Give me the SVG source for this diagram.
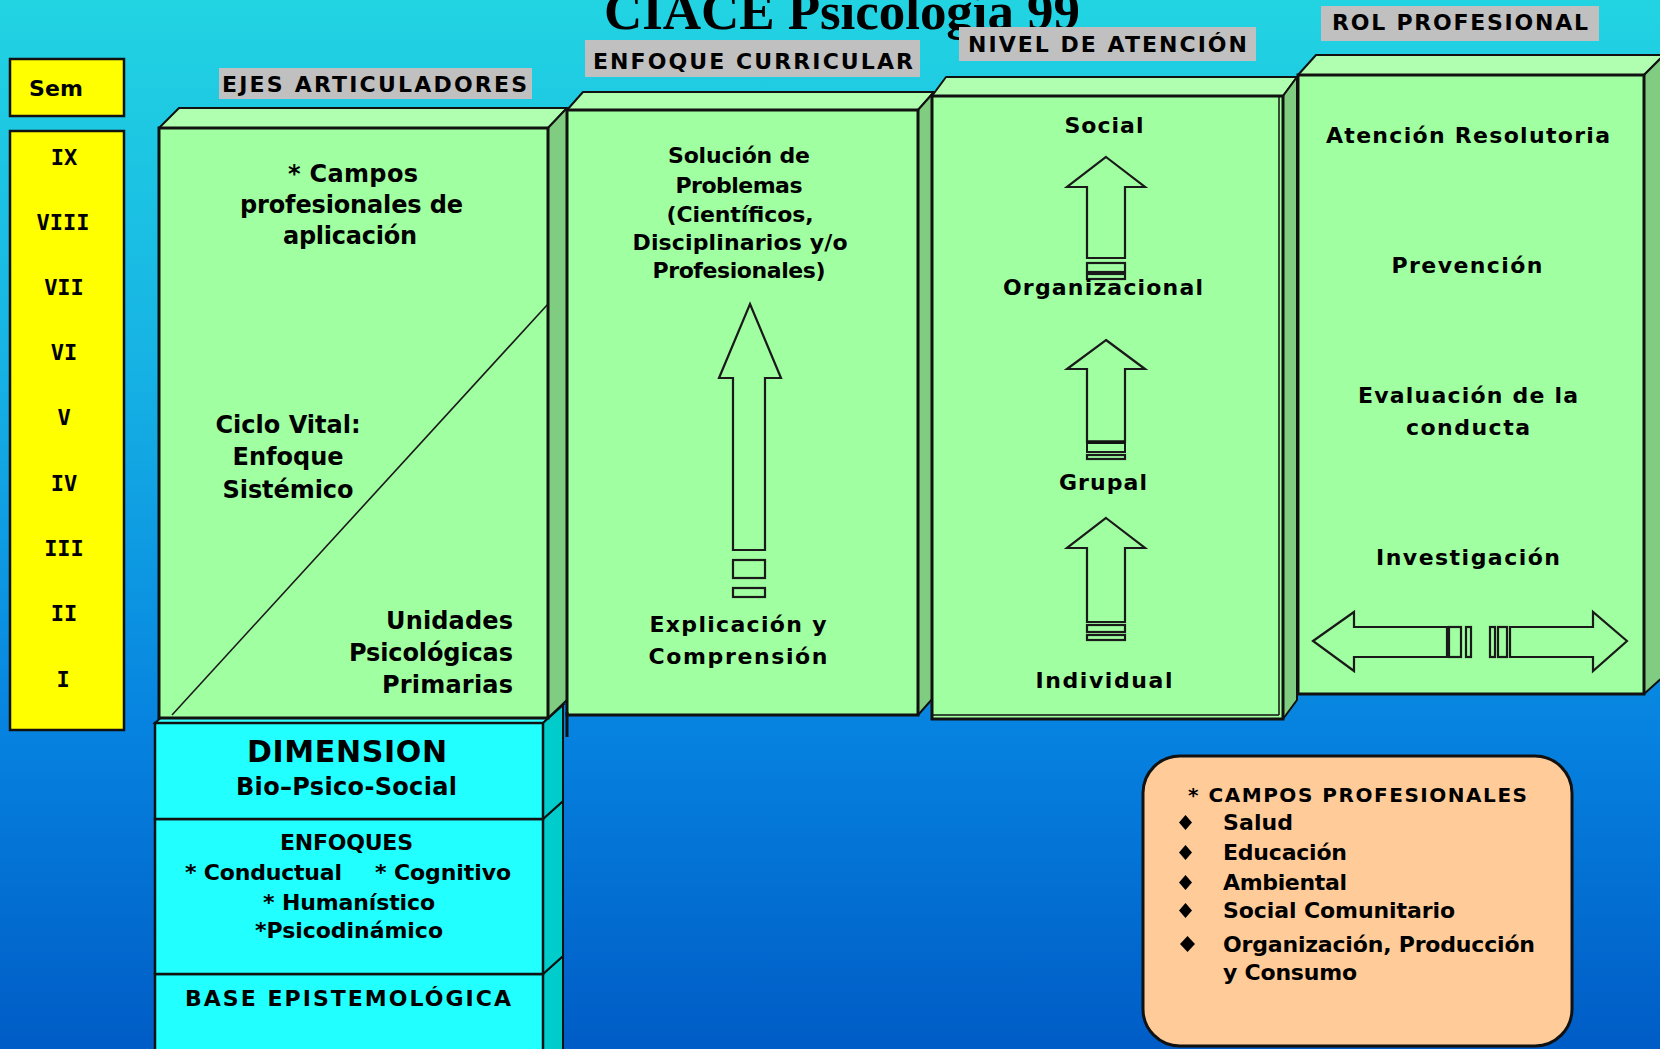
<svg xmlns="http://www.w3.org/2000/svg" width="1660" height="1049" viewBox="0 0 1660 1049">
<defs>
<linearGradient id="bg" x1="0" y1="0" x2="0" y2="1">
<stop offset="0" stop-color="#22D4E2"/>
<stop offset="0.35" stop-color="#16B2E4"/>
<stop offset="0.7" stop-color="#0682E0"/>
<stop offset="1" stop-color="#005CC6"/>
</linearGradient>
<style>
.t{font-family:"DejaVu Sans",Verdana,sans-serif;font-weight:bold;fill:#000;}
.m{text-anchor:middle;}
.e{text-anchor:end;}
.s22{font-size:22px;}
.s24{font-size:24px;}
.num{font-family:"DejaVu Sans Mono",monospace;font-weight:bold;font-size:22px;text-anchor:middle;fill:#000;}
.front{fill:#A0FFA0;stroke:#111;stroke-width:3;}
.top{fill:#B0FFB0;stroke:#111;stroke-width:2;stroke-linejoin:round;}
.side{fill:#80CC80;stroke:#111;stroke-width:2;stroke-linejoin:round;}
.cf{fill:#22FFFF;stroke:#111;stroke-width:2.5;}
.cs{fill:#00CCCC;stroke:#111;stroke-width:2;}
.ar{fill:none;stroke:#1a1a1a;stroke-width:2.2;stroke-linejoin:miter;}
.lab{fill:#C0C0C0;}
.yel{fill:#FFFF00;stroke:#111;stroke-width:2.5;}
</style>
</defs>
<rect x="0" y="0" width="1660" height="1049" fill="url(#bg)"/>

<g id="title">
<text x="604" y="29" font-family="Liberation Serif, Times New Roman, serif" font-weight="bold" font-size="53" textLength="476" fill="#000">CIACE Psicología 99</text>
</g>

<g id="sem">
<rect class="yel" x="10" y="59" width="114" height="57"/>
<text class="t s22 m" x="56" y="96" textLength="54">Sem</text>
</g>

<g id="semestres">
<rect class="yel" x="10" y="131" width="114" height="599"/>
<text class="num" x="64" y="165">IX</text>
<text class="num" x="63" y="230">VIII</text>
<text class="num" x="64" y="295">VII</text>
<text class="num" x="64" y="360">VI</text>
<text class="num" x="64" y="425">V</text>
<text class="num" x="64" y="491">IV</text>
<text class="num" x="64" y="556">III</text>
<text class="num" x="64" y="621">II</text>
<text class="num" x="63" y="687">I</text>
</g>

<g id="labels">
<rect class="lab" x="219" y="68" width="313" height="31"/>
<text class="t s22 m" x="374.5" y="92" textLength="305">EJES ARTICULADORES</text>
<rect class="lab" x="585" y="40" width="335" height="37"/>
<text class="t s22 m" x="753" y="69" textLength="320">ENFOQUE CURRICULAR</text>
<rect class="lab" x="959" y="27" width="297" height="34"/>
<text class="t s22 m" x="1107.5" y="52" textLength="279">NIVEL DE ATENCIÓN</text>
<rect class="lab" x="1321" y="6" width="278" height="35"/>
<text class="t s22 m" x="1460" y="30" textLength="256">ROL PROFESIONAL</text>
</g>

<g id="base-epistemologica">
<polygon class="cs" points="543,974 563,956 563,1060 543,1060"/>
<rect class="cf" x="155" y="974" width="388" height="90"/>
<text class="t s22 m" x="348" y="1006" textLength="326">BASE EPISTEMOLÓGICA</text>
</g>

<g id="enfoques">
<polygon class="cs" points="543,819 563,801 563,956 543,974"/>
<rect class="cf" x="155" y="819" width="388" height="155"/>
<text class="t s22 m" x="346.5" y="850" textLength="133">ENFOQUES</text>
<text class="t s22" x="185" y="880" textLength="157">* Conductual</text>
<text class="t s22" x="375" y="880" textLength="136">* Cognitivo</text>
<text class="t s22 m" x="349" y="910" textLength="172">* Humanístico</text>
<text class="t s22 m" x="349" y="938" textLength="188">*Psicodinámico</text>
</g>

<g id="dimension">
<polygon class="cs" points="155,723 175,705 563,705 543,723" style="fill:#33FFFF"/>
<polygon class="cs" points="543,723 563,705 563,801 543,819"/>
<rect class="cf" x="155" y="723" width="388" height="96"/>
<text class="t m" x="347" y="762" font-size="30" textLength="200">DIMENSION</text>
<text class="t s24 m" x="346.5" y="795" textLength="221" style="font-weight:bold">Bio–Psico-Social</text>
</g>

<g id="ejes-articuladores">
<polygon class="top" points="159,128 179,108 567,108 548,128"/>
<polygon class="side" points="548,128 567,108 567,700 548,718"/>
<rect class="front" x="159" y="128" width="389" height="590"/>
<line x1="172" y1="715" x2="548" y2="304" stroke="#1a1a1a" stroke-width="1.6"/>
<text class="t s24 m" x="353" y="182" textLength="130">* Campos</text>
<text class="t s24 m" x="351.5" y="213" textLength="223">profesionales de</text>
<text class="t s24 m" x="350" y="244" textLength="134">aplicación</text>
<text class="t s24 m" x="288" y="433" textLength="145">Ciclo Vital:</text>
<text class="t s24 m" x="288" y="465" textLength="111">Enfoque</text>
<text class="t s24 m" x="288" y="498" textLength="131">Sistémico</text>
<text class="t s24 e" x="513" y="629" textLength="127">Unidades</text>
<text class="t s24 e" x="513" y="661" textLength="164">Psicológicas</text>
<text class="t s24 e" x="513" y="693" textLength="131">Primarias</text>
</g>

<g id="enfoque-curricular">
<polygon class="top" points="567,110 583,92 934,92 918,110"/>
<polygon class="side" points="918,110 934,92 934,697 918,715"/>
<rect class="front" x="567" y="110" width="351" height="605"/>
<line x1="567" y1="712" x2="567" y2="737" stroke="#111" stroke-width="3"/>
<text class="t s22 m" x="739" y="163" textLength="142">Solución de</text>
<text class="t s22 m" x="739" y="193" textLength="127">Problemas</text>
<text class="t s22 m" x="740" y="222" textLength="147">(Científicos,</text>
<text class="t s22 m" x="740" y="250" textLength="215">Disciplinarios y/o</text>
<text class="t s22 m" x="739" y="278" textLength="173">Profesionales)</text>
<path class="ar" d="M750,304 L781,378 L765,378 L765,550 L733,550 L733,378 L719,378 Z"/>
<rect class="ar" x="733" y="560" width="32" height="18"/>
<rect class="ar" x="733" y="588" width="32" height="9"/>
<text class="t s22 m" x="738" y="632" textLength="177">Explicación y</text>
<text class="t s22 m" x="738" y="664" textLength="179">Comprensión</text>
</g>

<g id="nivel-de-atencion">
<polygon class="top" points="932,96 946,77 1297,77 1283,96"/>
<polygon class="side" points="1283,96 1297,77 1297,700 1283,719"/>
<rect class="front" x="932" y="96" width="351" height="623"/>
<line x1="1279" y1="97" x2="1279" y2="715" stroke="#111" stroke-width="1.5"/>
<line x1="933" y1="715" x2="1279" y2="715" stroke="#111" stroke-width="1.5"/>
<text class="t s22 m" x="1104" y="133" textLength="79">Social</text>
<path class="ar" d="M1106,157 L1145,187 L1125,187 L1125,258 L1087,258 L1087,187 L1067,187 Z"/>
<rect class="ar" x="1087" y="263" width="38" height="9"/>
<rect class="ar" x="1087" y="274" width="38" height="5"/>
<text class="t s22 m" x="1103" y="295" textLength="200">Organizacional</text>
<path class="ar" d="M1106,340 L1145,369 L1125,369 L1125,442 L1087,442 L1087,369 L1067,369 Z"/>
<rect class="ar" x="1087" y="443" width="38" height="9" style="stroke-width:2"/>
<line x1="1087" y1="442" x2="1125" y2="442" stroke="#111" stroke-width="3.5"/>
<rect class="ar" x="1087" y="455" width="38" height="4"/>
<text class="t s22 m" x="1103" y="490" textLength="88">Grupal</text>
<path class="ar" d="M1106,518 L1145,548 L1125,548 L1125,622 L1087,622 L1087,548 L1067,548 Z"/>
<rect class="ar" x="1087" y="625" width="38" height="7"/>
<rect class="ar" x="1087" y="635" width="38" height="5"/>
<text class="t s22 m" x="1104" y="688" textLength="137">Individual</text>
</g>

<g id="rol-profesional">
<polygon class="top" points="1298,75 1316,55 1664,55 1644,75"/>
<polygon class="side" points="1644,75 1664,55 1664,676 1644,694"/>
<rect class="front" x="1298" y="75" width="346" height="619"/>
<text class="t s22 m" x="1468" y="143" textLength="284">Atención Resolutoria</text>
<text class="t s22 m" x="1467" y="273" textLength="151">Prevención</text>
<text class="t s22 m" x="1468" y="403" textLength="220">Evaluación de la</text>
<text class="t s22 m" x="1468" y="435" textLength="124">conducta</text>
<text class="t s22 m" x="1468" y="565" textLength="184">Investigación</text>
<path class="ar" d="M1313,641 L1354,612 L1354,627 L1447,627 L1447,657 L1354,657 L1354,671 Z"/>
<rect class="ar" x="1449" y="627" width="12" height="30"/>
<rect class="ar" x="1466" y="627" width="5" height="30"/>
<rect class="ar" x="1490" y="627" width="5" height="30"/>
<rect class="ar" x="1498" y="627" width="9" height="30"/>
<path class="ar" d="M1627,641 L1593,612 L1593,627 L1510,627 L1510,657 L1593,657 L1593,671 Z"/>
</g>

<g id="campos-profesionales">
<rect x="1143" y="756" width="429" height="290" rx="37" ry="37" fill="#FFCC99" stroke="#111" stroke-width="3"/>
<text class="t" x="1188" y="802" font-size="20" textLength="339">* CAMPOS PROFESIONALES</text>
<polygon points="1185.5,815 1192,822.5 1185.5,830 1179,822.5" fill="#000"/>
<text class="t s22" x="1223" y="830" textLength="70">Salud</text>
<polygon points="1185.5,845 1192,852.5 1185.5,860 1179,852.5" fill="#000"/>
<text class="t s22" x="1223" y="860" textLength="124">Educación</text>
<polygon points="1185.5,875 1192,882.5 1185.5,890 1179,882.5" fill="#000"/>
<text class="t s22" x="1223" y="890" textLength="124">Ambiental</text>
<polygon points="1185.5,903 1192,910.5 1185.5,918 1179,910.5" fill="#000"/>
<text class="t s22" x="1223" y="918" textLength="232">Social Comunitario</text>
<polygon points="1187.5,936 1195,944 1187.5,952 1180,944" fill="#000"/>
<text class="t s22" x="1223" y="952" textLength="312">Organización, Producción</text>
<text class="t s22" x="1223" y="980" textLength="134">y Consumo</text>
</g>
</svg>
